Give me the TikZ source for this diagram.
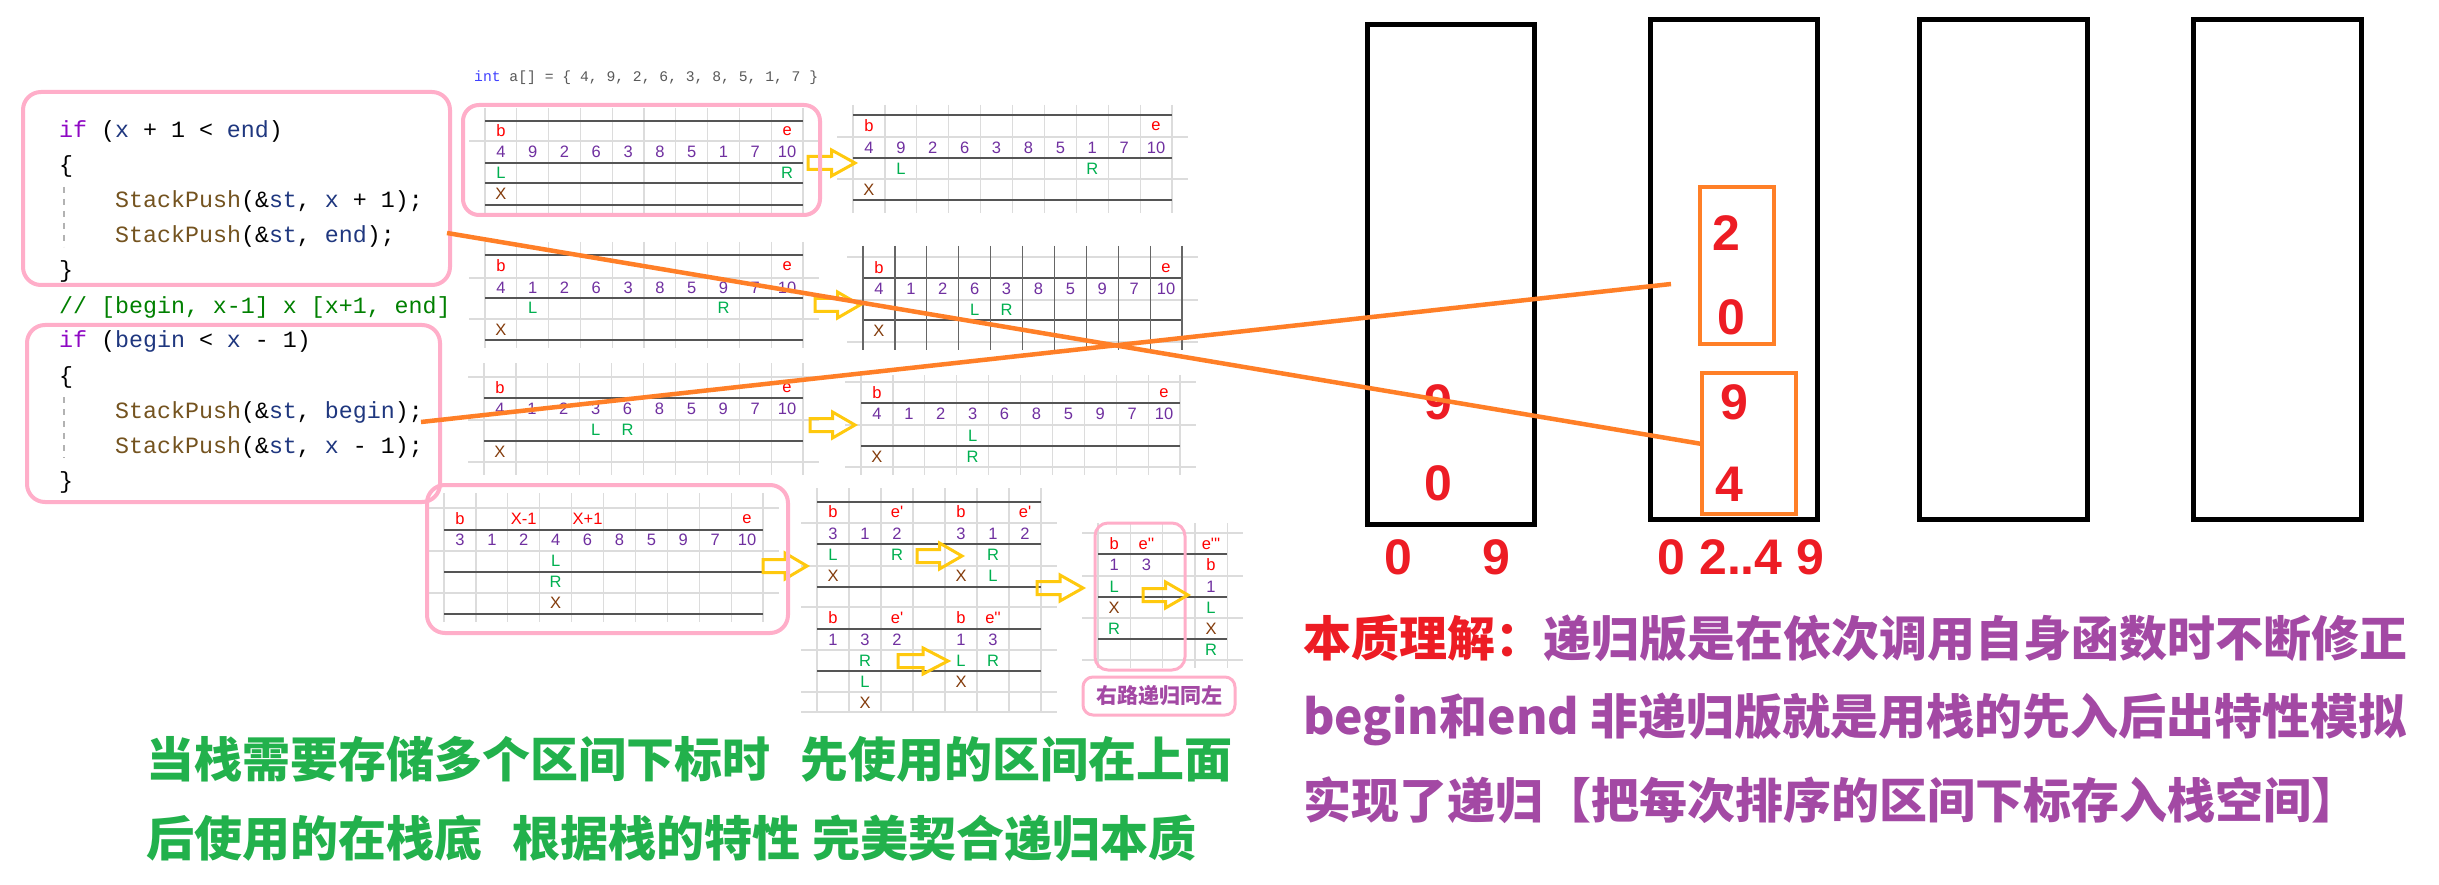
\documentclass[tikz,border=0pt]{standalone}
\usepackage{fontspec}
\newfontfamily\cjk{Noto Sans CJK SC}
\newfontfamily\codefont{Liberation Mono}
\newfontfamily\tabfont{Liberation Sans}
\definecolor{rose}{HTML}{FFAEC9}
\definecolor{porange}{HTML}{FF7F27}
\definecolor{pyellow}{HTML}{FFC90E}
\definecolor{pred}{HTML}{ED1C24}
\definecolor{ppurple}{HTML}{A349A4}
\definecolor{pgreen}{HTML}{22B14C}
\definecolor{tred}{HTML}{FF0000}
\definecolor{tpurple}{HTML}{7030A0}
\definecolor{tgreen}{HTML}{00B050}
\definecolor{tbrown}{HTML}{843C0C}
\definecolor{kw}{HTML}{8F08C4}
\definecolor{vr}{HTML}{1F377F}
\definecolor{fn}{HTML}{74531F}
\definecolor{cm}{HTML}{008000}
\definecolor{gl}{HTML}{DCDCDC}
\definecolor{gd}{HTML}{555555}
\newcommand\celR[1]{\textcolor{tred}{#1}}
\newcommand\celP[1]{\textcolor{tpurple}{#1}}
\newcommand\celG[1]{\textcolor{tgreen}{#1}}
\newcommand\celX[1]{\textcolor{tbrown}{#1}}
\newcommand\tgrid[7]{%
  \foreach \ii in {0,...,#3} \draw[gridl] ({#1+\ii*#2},#6) -- ({#1+\ii*#2},#7);
  \foreach \yy in {#4} \draw[gridl] ({#1-16},\yy) -- ({#1+#3*#2+16},\yy);
  \foreach \yy in {#5} \draw[gridd] (#1,\yy) -- ({#1+#3*#2},\yy);
}
\newcommand\trow[5]{\foreach \cc/\ct in {#5} \node[tc] (#1-\cc) at ({#2+(\cc-0.5)*#3},#4) {\ct};}
\newcommand\nrow[5]{\foreach \vv [count=\ii] in {#5} \node[tc,text=tpurple] (#1-\ii) at ({#2+(\ii-0.5)*#3},#4) {\vv};}
\newcommand\harrow[3]{%
  \draw[harr] ({#1},{#3-6.5}) -- ({(#1+#2)/2},{#3-6.5}) -- ({(#1+#2)/2},{#3-13}) -- ({#2},{#3})
   -- ({(#1+#2)/2},{#3+13}) -- ({(#1+#2)/2},{#3+6.5}) -- ({#1},{#3+6.5}) -- cycle;}
\tikzset{
  gridl/.style={draw=gl, line width=1.2},
  gridd/.style={draw=gd, line width=1.6},
  tc/.style={font=\tabfont\fontsize{16.5}{19}\selectfont, inner sep=0},
  harr/.style={draw=pyellow, line width=3, line join=miter},
  pinkbox/.style={draw=rose, line width=4, rounded corners=18},
  stackbox/.style={draw=black, line width=5},
  obox/.style={draw=porange, line width=4},
  oline/.style={draw=porange, line width=4.5},
  code/.style={anchor=base west, inner sep=0, font=\codefont\fontsize{23.3}{28}\selectfont},
  guide/.style={draw=black!30, line width=1.5, dash pattern=on 6 off 6},
  sdig/.style={font=\tabfont\bfseries\fontsize{50}{60}\selectfont, text=pred, inner sep=0},
  bigtxt/.style={anchor=west, inner sep=0, font=\cjk\bfseries\fontsize{48}{58}\selectfont},
}
\begin{document}
\begin{tikzpicture}[x=1pt,y=-1pt]
\fill[white] (0,0) rectangle (2439,885);
\useasboundingbox (0,0) rectangle (2439,885);

% ---------- array line
\node[anchor=base west, inner sep=0, font=\codefont\fontsize{14.7}{18}\selectfont, text=black!65] (arr) at (474,82)
  {\textcolor{blue!75}{int} a[] = \{ 4, 9, 2, 6, 3, 8, 5, 1, 7 \}};

% ---------- T1
\tgrid{485}{31.8}{10}{141}{121,163,183,205}{108}{213}
\trow{t1a}{485}{31.8}{131}{1/\celR{b},10/\celR{e}}
\nrow{t1b}{485}{31.8}{152}{4,9,2,6,3,8,5,1,7,10}
\trow{t1c}{485}{31.8}{173}{1/\celG{L},10/\celG{R}}
\trow{t1d}{485}{31.8}{194}{1/\celX{X}}
% ---------- T2
\tgrid{853}{31.9}{10}{137,179}{115,158,200}{105}{213}
\trow{t2a}{853}{31.9}{126}{1/\celR{b},10/\celR{e}}
\nrow{t2b}{853}{31.9}{148}{4,9,2,6,3,8,5,1,7,10}
\trow{t2c}{853}{31.9}{169}{2/\celG{L},8/\celG{R}}
\trow{t2d}{853}{31.9}{190}{1/\celX{X}}
% ---------- T3
\tgrid{485}{31.8}{10}{278,319}{255,298,340}{242}{348}
\trow{t3a}{485}{31.8}{266}{1/\celR{b},10/\celR{e}}
\nrow{t3b}{485}{31.8}{288}{4,1,2,6,3,8,5,9,7,10}
\trow{t3c}{485}{31.8}{308}{2/\celG{L},8/\celG{R}}
\trow{t3d}{485}{31.8}{330}{1/\celX{X}}
% ---------- T4
\tgrid{863}{31.9}{10}{257,300,342}{278,320}{246}{350}
\foreach \ii in {0,...,10} \draw[draw=black!60, line width=1.2] ({863+\ii*31.9},246) -- ({863+\ii*31.9},350);
\trow{t4a}{863}{31.9}{268}{1/\celR{b},10/\celR{e}}
\nrow{t4b}{863}{31.9}{289}{4,1,2,6,3,8,5,9,7,10}
\trow{t4c}{863}{31.9}{310}{4/\celG{L},5/\celG{R}}
\trow{t4d}{863}{31.9}{331}{1/\celX{X}}
% ---------- T5
\tgrid{484}{31.9}{10}{377,420,462}{398,441}{363}{475}
\trow{t5a}{484}{31.9}{388}{1/\celR{b},10/\celR{e}}
\nrow{t5b}{484}{31.9}{409}{4,1,2,3,6,8,5,9,7,10}
\trow{t5c}{484}{31.9}{430}{4/\celG{L},5/\celG{R}}
\trow{t5d}{484}{31.9}{452}{1/\celX{X}}
% ---------- T6
\tgrid{861}{31.9}{10}{382,425,467}{403,446}{375}{475}
\trow{t6a}{861}{31.9}{393}{1/\celR{b},10/\celR{e}}
\nrow{t6b}{861}{31.9}{414}{4,1,2,3,6,8,5,9,7,10}
\trow{t6c}{861}{31.9}{436}{4/\celG{L}}
\trow{t6d}{861}{31.9}{457}{1/\celX{X},4/\celG{R}}
% ---------- T7
\tgrid{444}{31.9}{10}{508,551,593}{530,572,614}{493}{622}
\trow{t7a}{444}{31.9}{519}{1/\celR{b},3/\celR{X-1},5/\celR{X+1},10/\celR{e}}
\nrow{t7b}{444}{31.9}{540}{3,1,2,4,6,8,5,9,7,10}
\trow{t7c}{444}{31.9}{561}{4/\celG{L}}
\trow{t7d}{444}{31.9}{582}{4/\celG{R}}
\trow{t7e}{444}{31.9}{603}{4/\celX{X}}
% ---------- T8
\tgrid{817}{32}{7}{523,566,607,650,692,712}{502,544,587,629,671}{488}{712}
\trow{t8a}{817}{32}{512}{1/\celR{b},3/\celR{e\textquotesingle},5/\celR{b},7/\celR{e\textquotesingle}}
\trow{t8b}{817}{32}{534}{1/\celP{3},2/\celP{1},3/\celP{2},5/\celP{3},6/\celP{1},7/\celP{2}}
\trow{t8c}{817}{32}{555}{1/\celG{L},3/\celG{R},6/\celG{R}}
\trow{t8d}{817}{32}{576}{1/\celX{X},5/\celX{X},6/\celG{L}}
\trow{t8e}{817}{32}{618}{1/\celR{b},3/\celR{e\textquotesingle},5/\celR{b},6/\celR{e\textquotesingle\textquotesingle}}
\trow{t8f}{817}{32}{640}{1/\celP{1},2/\celP{3},3/\celP{2},5/\celP{1},6/\celP{3}}
\trow{t8g}{817}{32}{661}{2/\celG{R},5/\celG{L},6/\celG{R}}
\trow{t8h}{817}{32}{682}{2/\celG{L},5/\celX{X}}
\trow{t8i}{817}{32}{703}{2/\celX{X}}
% ---------- T9
\tgrid{1098}{32.3}{4}{533,576,618,660}{554,597,639}{523}{668}
\trow{t9a}{1098}{32.3}{544}{1/\celR{b},2/\celR{e\textquotesingle\textquotesingle},4/\celR{e\textquotesingle\textquotesingle\textquotesingle}}
\trow{t9b}{1098}{32.3}{565}{1/\celP{1},2/\celP{3},4/\celR{b}}
\trow{t9c}{1098}{32.3}{587}{1/\celG{L},4/\celP{1}}
\trow{t9d}{1098}{32.3}{608}{1/\celX{X},4/\celG{L}}
\trow{t9e}{1098}{32.3}{629}{1/\celG{R},4/\celX{X}}
\trow{t9f}{1098}{32.3}{650}{4/\celG{R}}

% ---------- hollow arrows
\harrow{808}{855}{163}
\harrow{815}{860}{305}
\harrow{810}{855}{425}
\harrow{763}{807}{566}
\harrow{917}{962}{556}
\harrow{898}{948}{661}
\harrow{1037}{1083}{588}

% ---------- pink boxes
\draw[pinkbox] (23,92) rectangle (450,285);
\draw[pinkbox] (27,325) rectangle (440,502);
\draw[pinkbox, rounded corners=16] (463,105) rectangle (820,215);
\draw[pinkbox] (427,485) rectangle (788,633);
\draw[pinkbox, line width=3, rounded corners=13] (1095,523) rectangle (1185,670);
\harrow{1143}{1188}{595}
\node[draw=rose, line width=3, rounded corners=10, minimum width=152, minimum height=38, inner sep=0,
  text=ppurple, font=\cjk\bfseries\fontsize{21}{24}\selectfont] (lab) at (1159,696) {右路递归同左};

% ---------- code
\draw[guide] (64,187) -- (64,247);
\draw[guide] (64,397) -- (64,458);
\node[code] (c1) at (59,138) {\textcolor{kw}{if} (\textcolor{vr}{x} + 1 < \textcolor{vr}{end})};
\node[code] (c2) at (59,173) {\{};
\node[code] (c3) at (115,208) {\textcolor{fn}{StackPush}(\&\textcolor{vr}{st}, \textcolor{vr}{x} + 1);};
\node[code] (c4) at (115,243) {\textcolor{fn}{StackPush}(\&\textcolor{vr}{st}, \textcolor{vr}{end});};
\node[code] (c5) at (59,278) {\}};
\node[code] (c6) at (59,313) {\textcolor{cm}{// [begin, x-1] x [x+1, end]}};
\node[code] (c7) at (59,348) {\textcolor{kw}{if} (\textcolor{vr}{begin} < \textcolor{vr}{x} - 1)};
\node[code] (c8) at (59,383) {\{};
\node[code] (c9) at (115,418) {\textcolor{fn}{StackPush}(\&\textcolor{vr}{st}, \textcolor{vr}{begin});};
\node[code] (c10) at (115,453) {\textcolor{fn}{StackPush}(\&\textcolor{vr}{st}, \textcolor{vr}{x} - 1);};
\node[code] (c11) at (59,488) {\}};

% ---------- stacks
\draw[stackbox] (1367,25) rectangle (1534,524);
\draw[stackbox] (1650,20) rectangle (1817,519);
\draw[stackbox] (1919,20) rectangle (2087,519);
\draw[stackbox] (2193,20) rectangle (2361,519);
\node[sdig] (s1a) at (1438,402) {9};
\node[sdig] (s1b) at (1438,483) {0};
\draw[obox] (1700,187) rectangle (1774,344);
\draw[obox] (1702,373) rectangle (1796,514);
\node[sdig] (s2a) at (1726,233) {2};
\node[sdig] (s2b) at (1731,317) {0};
\node[sdig] (s2c) at (1734,402) {9};
\node[sdig] (s2d) at (1729,484) {4};
\node[sdig] (l1) at (1398,557) {0};
\node[sdig] (l2) at (1496,557) {9};
\node[sdig] (l3) at (1741,557) {0 2..4 9};

% ---------- texts
\node[bigtxt, text=pgreen] (g1) at (146,759) {当栈需要存储多个区间下标时\hspace{30pt}先使用的区间在上面};
\node[bigtxt, text=pgreen] (g2) at (146,838) {后使用的在栈底\hspace{30pt}根据栈的特性\hspace{12pt}完美契合递归本质};
\node[bigtxt, text=ppurple] (r1) at (1303,638) {\textcolor{pred}{本质理解：}递归版是在依次调用自身函数时不断修正};
\node[bigtxt, text=ppurple] (r2) at (1303,719) {begin和end 非递归版就是用栈的先入后出特性模拟};
\node[bigtxt, text=ppurple] (r3) at (1303,800) {实现了递归【把每次排序的区间下标存入栈空间】};

% ---------- orange connectors
\coordinate (o1s) at (447,233);
\coordinate (o1e) at (1702,444);
\coordinate (o2s) at (421,422);
\coordinate (o2e) at (1671,284);
\draw[oline] (o1s) -- (o1e);
\draw[oline] (o2s) -- (o2e);
\end{tikzpicture}
\end{document}
